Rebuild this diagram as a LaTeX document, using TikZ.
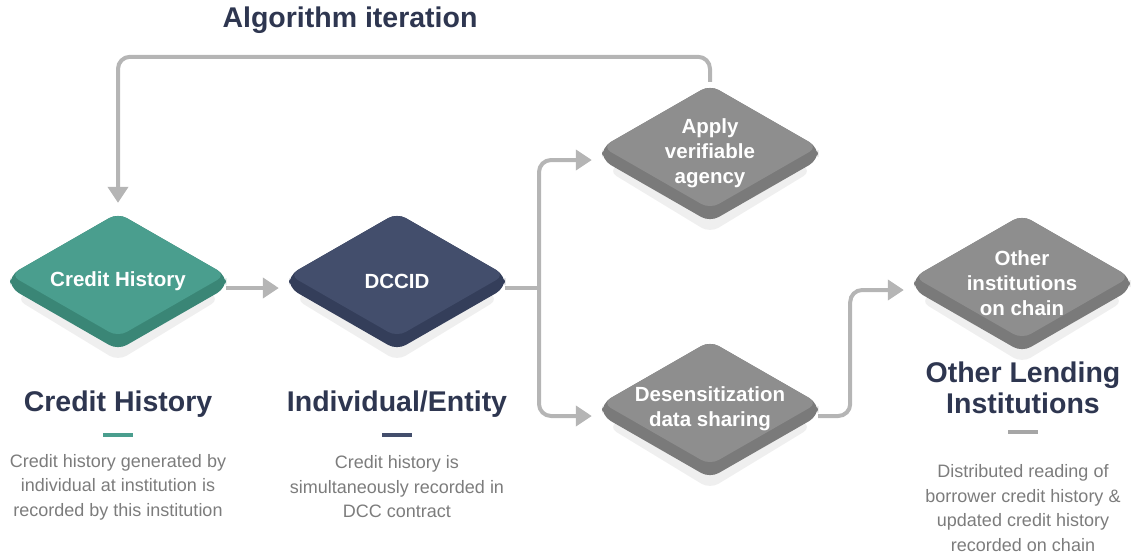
\documentclass[tikz,border=0pt]{standalone}
\usepackage{fontspec}
\setmainfont{Liberation Sans}
\usetikzlibrary{arrows.meta, positioning, shapes.geometric, calc}

\definecolor{topcredit}{HTML}{4A9E8E}
\definecolor{sidecredit}{HTML}{3A8676}
\definecolor{topdccid}{HTML}{434E6C}
\definecolor{sidedccid}{HTML}{343E5A}
\definecolor{topgrey}{HTML}{8E8E8E}
\definecolor{sidegrey}{HTML}{7A7A7A}
\definecolor{headnavy}{HTML}{2E3650}
\definecolor{descgrey}{HTML}{7C7C7C}
\definecolor{flowgrey}{HTML}{B5B5B5}
\definecolor{shadegrey}{HTML}{EFEFEF}

\begin{document}
\begin{tikzpicture}[x=1pt, y=-1pt, >={Triangle[width=20pt, length=16pt]},
	plate/.style={diamond, minimum width=216pt, minimum height=124pt, inner sep=0pt, rounded corners=10pt},
	platetext/.style={text=white, align=center, font=\bfseries\fontsize{20.5}{25}\selectfont},
	heading/.style={text=headnavy, align=center, font=\bfseries\fontsize{28.5}{31}\selectfont},
	desc/.style={text=descgrey, align=center, font=\fontsize{18}{24.5}\selectfont},
	bar/.style={minimum width=30pt, minimum height=3.5pt, inner sep=0pt},
	flow/.style={->, draw=flowgrey, line width=4pt, rounded corners=12pt, shorten >=10pt}]

	\useasboundingbox (0,0) rectangle (1135,558);

	% the five plates: shadow, side, top face, text
	\foreach \n/\x/\y/\c/\t in {credit/118/275/credit/{Credit History},
		dccid/397/275/dccid/{DCCID},
		apply/710/147/grey/{Apply\\verifiable\\agency},
		desens/710/403/grey/{Desensitization\\data sharing},
		other/1022/277/grey/{Other\\institutions\\on chain}} {
		\node [plate, fill=shadegrey, minimum width=204pt] at (\x,{\y+24}) {};
		\fill [side\c, rounded corners=10pt] ({\x-108},\y) -- ({\x-108},{\y+13}) -- (\x,{\y+75})
			-- ({\x+108},{\y+13}) -- ({\x+108},\y) -- (\x,{\y-62}) -- cycle;
		\node [plate, fill=top\c] (\n) at (\x,\y) {};
		\node [platetext] at (\x,{\y+6}) {\t};
	}

	\node [heading] (iterlabel) at (350,20) {Algorithm iteration};

	% columns under the plates
	\node [heading] (credhead) at (118,404) {Credit History};
	\node [bar, fill=topcredit] (credbar) at (118,435) {};
	\node [desc] (creddesc) at (118,487) {Credit history generated by\\individual at institution is\\recorded by this institution};

	\node [heading] (entityhead) at (397,404) {Individual/Entity};
	\node [bar, fill=topdccid] (entitybar) at (397,435) {};
	\node [desc] (entitydesc) at (397,487) {Credit history is\\simultaneously recorded in\\DCC contract};

	\node [heading] (lendhead) at (1023,388) {Other Lending\\Institutions};
	\node [bar, fill=black!35] (lendbar) at (1023,432) {};
	\node [desc] (lenddesc) at (1023,508) {Distributed reading of\\borrower credit history \&\\updated credit history\\recorded on chain};

	% connectors
	\coordinate (fork) at (539,288);
	\draw [flow] ([yshift=-13pt]credit.east) -- ([yshift=-13pt]dccid.west);
	\draw [flow, -, shorten >=0pt] ([yshift=-13pt]dccid.east) -- (fork);
	\draw [flow] (fork) |- ([yshift=-13pt]apply.west);
	\draw [flow] (fork) |- ([yshift=-13pt]desens.west);
	\draw [flow] ([yshift=-13pt]desens.east) -- ++(32,0) |- ([yshift=-13pt]other.west);
	\draw [flow, shorten <=3pt] (apply.north) -- ++(0,-28) -| (credit.north);

\end{tikzpicture}
\end{document}
